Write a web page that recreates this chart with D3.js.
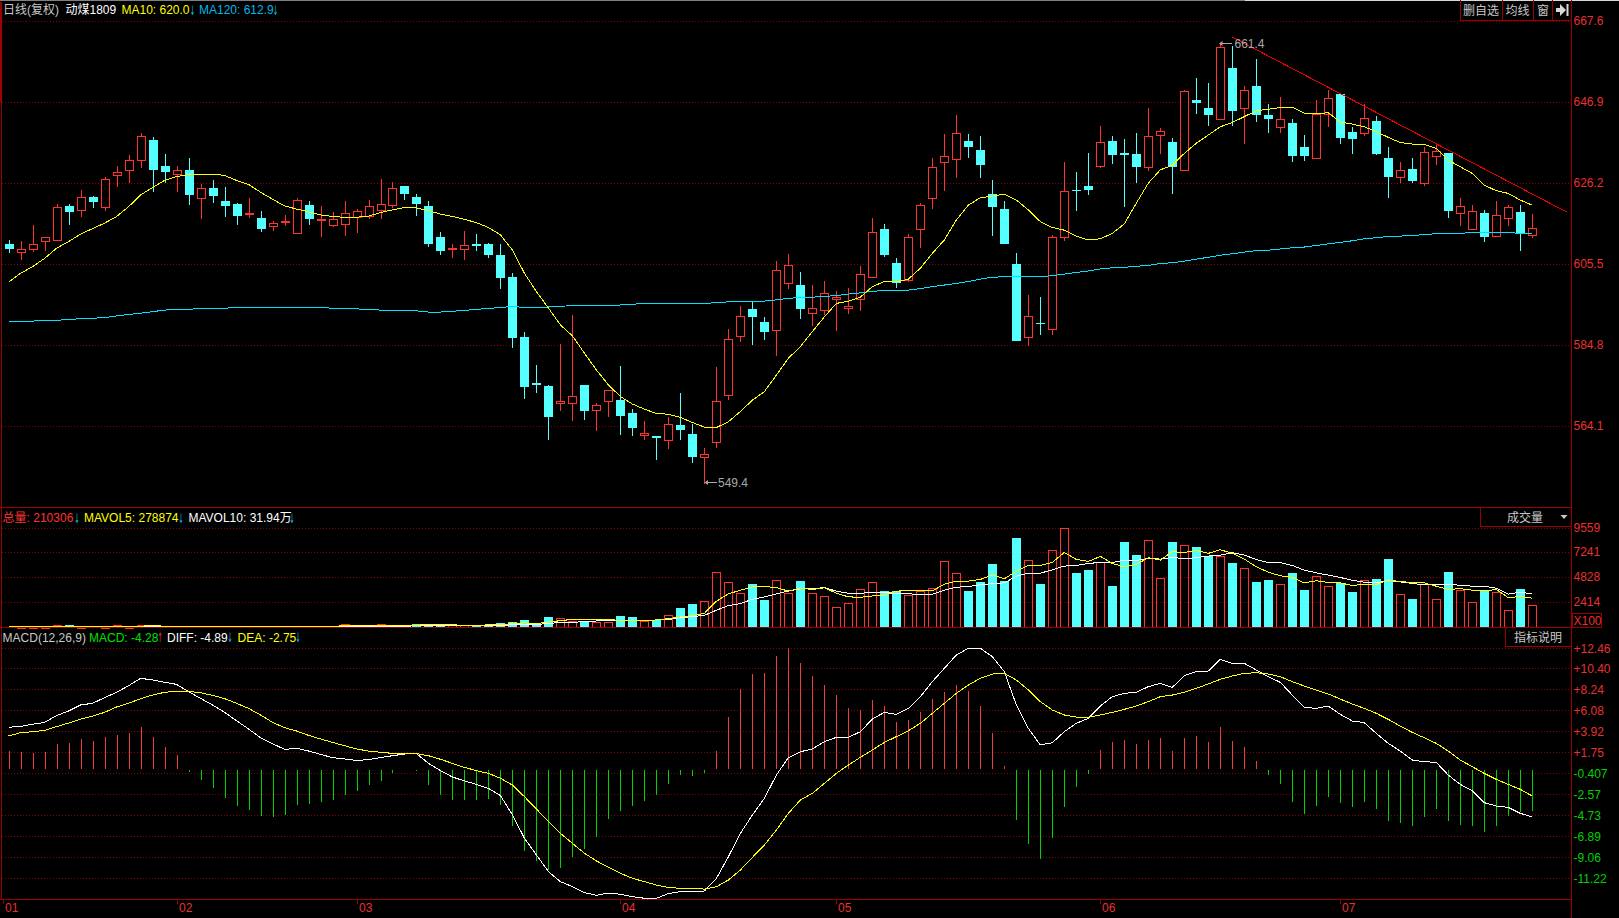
<!DOCTYPE html>
<html><head><meta charset="utf-8">
<style>
html,body{margin:0;padding:0;background:#000;overflow:hidden}
svg{display:block}
text{font-family:"Liberation Sans","Noto Sans CJK SC",sans-serif;font-size:12px}
</style>
<script src="https://cdn.jsdelivr.net/npm/d3@7/dist/d3.min.js"></script>
</head><body>
<svg id="c" width="1619" height="918"></svg>
<script>
const opens=[610.6,608.6,609.4,611.4,611.7,620.3,619.3,622.6,619.9,628.3,
629.6,631.9,637.1,630.5,628.5,629.5,622.4,624.9,621.6,620.8,
618.3,617.2,615.3,616.1,613.5,620.5,616.8,615.4,615.8,617.5,
617.7,619.3,620.6,625.4,622.6,620.3,612.4,609.4,609.4,610.5,
610.6,607.8,602.2,586.8,575.1,574.3,570.1,570.1,574.6,568.3,
570.6,570.7,567.4,561.7,561.6,560.6,564.4,562.1,556.3,560.1,
571.9,587.2,594.0,590.7,588.5,600.5,600.1,592.9,593.6,596.6,
594.2,596.6,602.2,614.4,605.7,601.4,614.5,622.4,631.6,632.4,
636.9,634.6,623.3,619.5,605.5,586.7,590.5,588.8,612.3,624.4,
625.4,630.6,636.9,633.8,633.6,630.3,638.5,636.6,629.6,647.3,
645.3,642.6,655.5,645.4,650.9,643.5,640.5,641.5,635.3,632.6,
643.7,648.9,639.2,639.0,642.0,632.5,627.8,629.7,626.2,633.1,
633.8,618.6,614.4,618.5,612.5,617.3,618.8,613.0];
const highs=[611.5,611.3,615.4,612.3,620.8,620.8,624.4,622.9,627.7,630.5,
633.3,638.9,637.9,633.6,630.5,632.5,625.9,626.8,625.1,621.0,
622.3,619.0,616.5,618.0,622.3,621.6,620.3,618.8,621.6,619.5,
621.8,627.2,626.4,625.4,623.3,621.6,613.6,610.6,613.9,613.1,
610.8,610.6,603.2,588.1,579.7,574.6,585.0,592.4,574.6,570.0,
573.2,579.4,568.4,565.4,561.6,566.4,572.5,564.6,558.4,579.2,
588.9,594.8,595.8,591.9,606.2,608.0,603.4,600.1,601.1,598.6,
599.4,605.0,617.2,615.7,607.0,613.1,621.0,632.5,638.7,643.5,
638.7,638.2,626.9,621.6,608.3,597.6,597.0,613.0,631.5,629.0,
633.8,640.7,638.2,637.4,638.9,645.3,640.2,637.6,649.9,653.0,
651.7,661.8,661.2,650.9,657.8,646.3,648.1,642.5,638.4,647.3,
649.9,648.9,640.4,646.3,643.3,635.3,631.5,632.5,635.3,636.4,
633.8,622.3,620.5,619.3,621.6,620.5,620.5,618.2];
const lows=[608.4,606.5,608.6,608.9,611.7,615.4,617.5,619.8,619.1,625.1,
626.2,630.0,623.9,626.2,623.9,620.5,617.0,621.0,617.5,615.4,
617.2,613.6,613.9,615.2,613.5,615.4,612.4,614.9,612.6,613.4,
617.0,617.0,619.8,621.8,617.7,609.8,607.8,607.0,606.5,608.8,
607.0,599.1,584.0,571.0,572.5,560.5,568.0,565.4,565.6,562.8,
566.4,561.8,561.6,560.5,555.4,558.2,560.5,554.7,549.4,558.5,
570.7,585.6,584.8,586.1,582.0,599.1,591.4,589.6,592.5,588.4,
592.7,593.5,601.9,607.3,599.4,600.9,609.6,619.5,624.1,627.4,
632.5,627.4,612.6,610.6,585.8,584.6,587.3,587.4,611.4,619.0,
623.1,630.0,631.0,620.0,626.2,629.2,633.6,623.3,629.6,643.8,
640.7,642.4,640.7,636.1,641.7,638.9,638.9,631.5,631.8,632.6,
640.4,636.1,633.6,638.2,633.3,622.3,626.2,626.2,625.4,630.8,
617.2,615.2,614.2,611.1,612.4,615.2,608.8,612.1];
const closes=[609.3,609.2,610.5,612.3,619.9,618.8,622.5,621.3,627.1,628.9,
631.9,638.1,629.5,629.0,629.4,623.1,625.0,622.8,620.3,617.7,
618.4,614.4,615.9,616.4,621.7,617.0,616.9,616.9,618.4,618.9,
620.4,620.7,624.8,623.3,620.8,610.6,608.8,609.5,610.2,610.1,
607.8,601.9,586.6,574.1,574.6,566.4,570.5,571.7,567.9,569.4,
573.2,566.7,563.6,562.2,561.1,564.5,563.1,556.2,556.9,570.4,
586.2,592.1,591.9,588.1,603.9,605.1,594.0,594.2,598.0,597.0,
594.7,602.8,613.6,607.8,600.6,612.3,620.5,630.2,633.0,638.8,
635.4,630.8,620.0,610.6,585.8,592.1,590.1,612.3,624.0,624.1,
624.4,636.5,633.3,633.3,630.2,638.1,639.4,630.2,649.6,646.6,
643.5,660.8,644.5,649.8,643.5,642.5,642.4,633.0,633.0,643.8,
647.8,637.6,637.4,642.7,633.6,627.7,629.6,626.7,634.0,634.2,
619.0,620.2,618.9,612.4,617.9,619.9,613.1,614.6];
const ma10=[600.8,603.1,604.8,606.9,609.5,611.2,613.1,614.5,615.9,617.6,
620.1,623.1,625.0,626.8,627.8,628.3,628.4,628.4,628.1,626.8,
625.8,623.8,622.0,620.3,619.5,618.8,618.0,617.6,617.4,617.4,
617.7,618.6,619.3,619.9,619.8,619.1,618.2,617.6,616.9,616.0,
614.8,612.9,609.0,603.1,598.4,594.2,589.9,587.1,582.7,578.4,
574.6,571.6,569.7,568.4,567.3,567.1,566.3,565.0,563.8,563.7,
565.2,567.8,570.7,572.9,577.1,581.4,584.4,588.2,592.0,595.4,
596.0,597.0,599.7,601.0,600.9,601.6,604.4,608.2,611.6,616.7,
620.5,622.4,622.8,623.3,621.8,619.3,616.3,614.8,614.1,612.6,
611.6,611.9,613.3,615.7,621.0,626.1,629.5,630.7,633.7,636.3,
638.4,640.5,641.6,643.1,644.6,645.0,645.4,645.5,644.0,643.8,
644.1,641.7,641.2,640.5,639.3,637.8,636.5,636.1,636.0,635.0,
632.0,630.3,628.6,625.6,624.2,623.5,621.8,620.5];
const ma120=[590.7,590.7,590.9,591.0,591.1,591.3,591.5,591.6,591.8,592.2,
592.6,592.9,593.3,593.7,593.9,593.9,594.1,594.1,594.2,594.3,
594.4,594.4,594.4,594.4,594.4,594.4,594.3,594.2,594.1,594.0,
593.9,593.7,593.6,593.6,593.5,593.2,593.2,593.4,593.6,593.9,
594.1,594.4,594.6,594.4,594.4,594.5,594.7,594.8,594.9,594.9,
594.9,595.0,595.2,595.4,595.4,595.4,595.4,595.4,595.4,595.6,
595.8,595.9,595.9,596.0,596.3,596.7,596.9,597.0,597.2,597.4,
597.8,598.1,598.5,598.7,598.8,598.8,599.2,599.7,600.1,600.5,
601.0,601.6,602.1,602.2,602.2,602.2,602.2,602.5,602.9,603.3,
603.7,604.2,604.5,604.6,604.9,605.1,605.6,605.8,606.2,606.7,
607.2,607.7,608.1,608.5,608.9,609.0,609.3,609.6,609.8,610.2,
610.6,611.0,611.4,611.9,612.2,612.5,612.6,612.7,613.0,613.2,
613.2,613.3,613.5,613.6,613.5,613.5,613.3,613.2];
const volume=[30,30,30,40,170,170,30,30,40,170,
40,170,170,60,50,50,60,50,50,50,
50,50,50,50,50,60,70,60,260,80,
70,260,90,90,260,230,90,230,180,230,
230,355,450,650,290,940,900,580,480,520,
520,1030,940,580,710,1200,1810,2200,2490,5300,
4330,3330,4200,2580,4520,3300,4420,3330,2970,1900,
2290,3650,4330,3490,3460,3130,3460,3810,6330,5170,
3460,4300,6070,4420,8590,6430,4130,7430,9559,5200,
5490,6300,3940,8200,6950,8370,4720,8200,7910,7720,
6880,6820,6170,5650,4330,4520,4200,5200,3550,4880,
3940,4260,3360,4490,4620,6560,3230,2680,4170,2750,
5300,3550,2450,3490,3420,1680,3650,2103];
const mavol5=[40,40,40,50,50,60,60,60,60,60,
70,70,170,70,60,60,60,50,50,50,
50,50,50,50,50,60,60,60,130,130,
120,150,140,130,180,220,230,220,150,170,
200,250,310,400,320,480,610,740,740,740,
710,650,650,650,680,810,970,1100,1320,2490,
3200,3550,3880,3910,3810,3460,3750,3620,3780,3260,
2910,2870,3000,3100,3460,3520,3520,3490,4130,4430,
4430,4590,5040,4650,5390,5940,5940,6230,7200,6520,
6330,6820,6140,5810,6040,6690,6460,7270,7200,7400,
7110,7460,7110,6560,5810,5300,4940,4780,4260,4460,
4300,4260,4010,4130,4100,4550,4390,4300,4260,3940,
3620,3710,3550,3490,3620,2840,2940,2789];
const mavol10=[80,80,80,80,80,80,80,80,80,80,
80,80,80,80,80,80,80,80,80,80,
80,80,80,80,80,80,80,80,80,80,
80,85,85,90,100,110,120,130,130,140,
150,170,200,240,260,320,450,450,520,580,
610,610,610,650,680,710,900,1000,1130,1620,
2070,2260,2680,2910,3200,3490,3680,3680,3810,3460,
3260,3260,3330,3330,3230,3230,3100,3170,3550,3840,
3910,4070,4200,4260,4910,5200,5200,5520,5880,5940,
6140,6230,6230,6460,6430,6620,6560,6720,6590,6690,
6850,6940,7170,6940,6520,6230,6230,5940,5490,5230,
5010,4780,4520,4330,4260,4490,4360,4200,4070,4070,
4100,4040,3940,3940,3750,3170,3360,3194];
const diff=[4.32,4.42,4.63,4.83,5.52,6.0,6.62,6.79,7.37,7.92,
8.6,9.36,9.19,8.95,8.74,7.99,7.3,6.62,5.86,5.0,
4.15,3.25,2.64,2.05,2.16,1.88,1.54,1.2,1.06,0.92,
0.99,1.2,1.4,1.57,1.61,0.61,-0.14,-0.79,-1.2,-1.55,
-1.96,-2.71,-4.7,-7.1,-8.82,-10.53,-11.56,-12.07,-12.69,-12.96,
-12.73,-12.86,-13.1,-13.27,-13.27,-12.79,-12.59,-12.62,-12.52,-11.22,
-8.99,-6.59,-4.7,-2.99,-0.59,1.2,1.81,2.09,2.84,3.29,
3.29,3.87,5.17,5.86,5.65,6.27,7.47,9.02,10.39,11.76,
12.45,12.45,11.59,10.04,6.62,4.21,2.5,2.74,3.87,4.73,
5.24,6.51,7.47,7.82,7.92,8.5,8.84,8.43,9.63,10.04,
10.11,11.31,10.9,10.9,10.22,9.53,8.95,7.64,6.37,6.27,
6.51,5.65,4.97,4.8,3.7,2.67,1.88,0.96,0.78,0.72,
-0.59,-1.55,-2.2,-3.43,-3.78,-3.91,-4.53,-4.89];
const dea=[3.43,3.77,3.87,4.01,4.39,4.76,5.17,5.48,5.86,6.41,
6.79,7.27,7.64,7.92,8.02,8.02,7.88,7.61,7.27,6.79,
6.27,5.59,4.83,4.28,3.94,3.49,3.12,2.77,2.43,2.09,
1.88,1.75,1.64,1.61,1.61,1.4,1.03,0.61,0.2,-0.14,
-0.42,-0.93,-1.62,-2.82,-4.09,-5.39,-6.59,-7.62,-8.64,-9.43,
-10.09,-10.7,-11.22,-11.56,-11.91,-12.15,-12.25,-12.28,-12.32,-12.08,
-11.39,-10.36,-9.06,-7.79,-6.25,-4.53,-3.16,-2.47,-1.44,-0.42,
0.44,1.23,1.99,2.77,3.36,3.97,4.73,5.76,6.79,7.82,
8.67,9.36,9.8,9.87,9.19,8.16,6.96,6.1,5.59,5.38,
5.35,5.59,5.86,6.17,6.51,6.96,7.47,7.64,7.92,8.33,
8.78,9.26,9.6,9.87,9.94,9.8,9.53,9.02,8.57,8.16,
7.75,7.23,6.72,6.27,5.76,5.14,4.45,3.8,3.25,2.67,
1.88,0.96,0.27,-0.42,-1.03,-1.55,-2.06,-2.75];
const macd=[1.88,1.75,1.68,1.78,2.57,2.71,3.12,2.91,3.32,3.53,
3.73,4.35,3.32,2.29,1.47,-0.24,-1.1,-1.92,-2.95,-3.78,
-4.19,-4.8,-4.91,-4.7,-3.67,-3.57,-3.36,-3.16,-2.64,-2.23,
-1.62,-1.2,-0.38,0.05,-0.14,-1.62,-2.64,-3.16,-3.16,-3.16,
-3.05,-3.67,-5.83,-8.4,-9.43,-10.36,-10.15,-9.03,-8.2,-6.97,
-5.11,-4.29,-3.78,-3.26,-2.64,-1.51,-0.59,-0.69,-0.38,1.88,
5.38,8.26,9.8,9.91,11.66,12.48,10.93,9.6,8.67,7.64,
6.3,6.1,7.13,6.51,4.87,5.07,5.9,7.23,7.95,8.67,
8.06,6.51,3.73,0.34,-5.21,-7.68,-9.24,-7.07,-3.88,-1.82,
-0.48,1.99,2.81,3.01,2.6,3.01,3.22,1.88,3.22,3.43,
2.81,4.35,2.91,2.29,0.85,-0.59,-1.51,-3.36,-4.59,-3.78,
-2.85,-3.47,-3.88,-3.36,-4.09,-5.32,-5.52,-5.83,-4.91,-4.09,
-5.32,-5.73,-5.83,-6.45,-5.83,-4.8,-4.39,-4.28];
const priceTicks=[667.6,646.9,626.2,605.5,584.8,564.1];
const volTicks=[9559,7241,4828,2414];
const macdTicks=[12.46,10.40,8.24,6.08,3.92,1.75,-0.407,-2.57,-4.73,-6.89,-9.06,-11.22];
const macdTickLabels=["+12.46","+10.40","+8.24","+6.08","+3.92","+1.75","-0.407","-2.57","-4.73","-6.89","-9.06","-11.22"];
const monthLabels=["01","02","03","04","05","06","07"];
const monthIndex=[-0.5,14,29,51,69,91,111];
const trendIndex=[102,129.9];
const trendPrice=[663.4,618.7];

[opens,highs,lows,closes,ma10,ma120,volume,mavol5,mavol10,diff,dea,macd].forEach((a,k)=>{
  if(a.length!==128) throw new Error("series "+k+" has "+a.length);
});
const idx=d3.range(128);

const RED="#ff3232",CY="#54ffff",YEL="#ffff00",GRID="#8a0000",FRAME="#9a0000",AX="#e83030",GRN="#00d000";
const x=d3.scaleLinear().domain([0,127]).range([8.6,1532.2]);
const yP=d3.scaleLinear().domain([667.6,564.1]).range([20.7,426]);
const yV=d3.scaleLinear().domain([0,9559]).range([627,528]);
const yM=d3.scaleLinear().domain([0,12.46]).range([769.3,648.2]);
const svg=d3.select("#c");
svg.append("rect").attr("width",1619).attr("height",918).attr("fill","#000");

function grid(vals,y){
  svg.append("g").selectAll("line").data(vals).join("line")
   .attr("x1",2).attr("x2",1571)
   .attr("y1",d=>Math.round(y(d))+.5).attr("y2",d=>Math.round(y(d))+.5)
   .attr("stroke",GRID).attr("stroke-dasharray","1 2").attr("shape-rendering","crispEdges");
}
grid(priceTicks,yP);grid(volTicks,yV);grid(macdTicks,yM);

const cx=i=>Math.round(x(i));
// candles
const gc=svg.append("g").attr("shape-rendering","crispEdges");
gc.selectAll("line").data(idx).join("line")
 .attr("x1",i=>cx(i)+.5).attr("x2",i=>cx(i)+.5)
 .attr("y1",i=>yP(highs[i])).attr("y2",i=>yP(lows[i]))
 .attr("stroke",i=>closes[i]>=opens[i]?RED:CY);
gc.selectAll("rect").data(idx).join("rect")
 .each(function(i){
   const up=closes[i]>=opens[i];
   const t=Math.round(yP(Math.max(opens[i],closes[i])));
   const b=Math.round(yP(Math.min(opens[i],closes[i])));
   const h=Math.max(b-t,1);
   d3.select(this)
    .attr("x",up?cx(i)-3.5:cx(i)-4).attr("width",up?8:9)
    .attr("y",up?t+.5:t).attr("height",h)
    .attr("fill",up?"#000":CY).attr("stroke",up?RED:"none");
 });

const line=(vals,y)=>d3.line().x(i=>x(i)).y(i=>y(vals[i]))(idx);
function path(d,c,w){svg.append("path").attr("d",d).attr("fill","none").attr("stroke",c).attr("stroke-width",w||1).attr("shape-rendering","crispEdges");}
path(line(ma120,yP),"#00e0ff");
path(line(ma10,yP),YEL);

// trend line
svg.append("line").attr("x1",x(trendIndex[0])).attr("y1",yP(trendPrice[0]))
 .attr("x2",x(trendIndex[1])).attr("y2",yP(trendPrice[1])).attr("stroke","#f00000").attr("shape-rendering","crispEdges");

// volume bars
const gv=svg.append("g").attr("shape-rendering","crispEdges");
gv.selectAll("rect").data(idx).join("rect").each(function(i){
  const up=closes[i]>=opens[i];
  const t=Math.round(yV(volume[i]));
  d3.select(this).attr("x",up?cx(i)-3.5:cx(i)-4).attr("width",up?8:9)
   .attr("y",up?t+.5:t).attr("height",Math.max(627-t,1))
   .attr("fill",up?"none":CY).attr("stroke",up?RED:"none");
});
path(line(mavol10,yV),"#ffffff");
path(line(mavol5,yV),YEL);

// MACD bars
const gm=svg.append("g").attr("shape-rendering","crispEdges");
gm.selectAll("line").data(idx).join("line")
 .attr("x1",i=>cx(i)+.5).attr("x2",i=>cx(i)+.5)
 .attr("y1",i=>macd[i]>=0?yM(macd[i]):yM(0)+1).attr("y2",i=>macd[i]>=0?yM(0):yM(macd[i]))
 .attr("stroke",i=>macd[i]>=0?"#f03c3c":"#00d400");
path(line(diff,yM),"#ffffff");
path(line(dea,yM),YEL);

// frame
function fl(x1,y1,x2,y2,c,w){svg.append("line").attr("x1",x1).attr("y1",y1).attr("x2",x2).attr("y2",y2)
  .attr("stroke",c).attr("stroke-width",w||1).attr("shape-rendering","crispEdges");}
fl(0,0.5,1245,0.5,"#808080");fl(1245,0.5,1619,0.5,"#d8d8d8");
fl(1,2,1,102,"#a00000",2);fl(1.5,102,1.5,899,FRAME);
fl(0,507.5,1571,507.5,FRAME);fl(0,627.5,1571,627.5,FRAME);fl(0,899.5,1571,899.5,FRAME);
fl(1571.5,0,1571.5,918,FRAME);

// axis labels
function txt(s,tx,ty,c,anchor,size){return svg.append("text").attr("x",tx).attr("y",ty).attr("dy","0.36em").attr("fill",c)
  .attr("text-anchor",anchor||"start").style("font-size",(size||12)+"px").text(s);}
priceTicks.forEach(v=>txt(v.toFixed(1),1573.5,yP(v),AX));
volTicks.forEach(v=>txt(String(v),1573.5,yV(v),AX));
macdTicks.forEach((v,k)=>txt(macdTickLabels[k],1573.5,yM(v),v>0?AX:GRN));
svg.append("rect").attr("x",1572.5).attr("y",613.5).attr("width",29).attr("height",14).attr("fill","none").attr("stroke",FRAME).attr("shape-rendering","crispEdges");
txt("X100",1573.5,620.5,AX);

// month axis
monthLabels.forEach((m,k)=>{
  const px=Math.round(x(monthIndex[k]))+.5;
  fl(px,900,px,904,FRAME);
  txt(m,px+1.5,907.5,AX);
});

// headers
const GR="#c8c8c8",AR="#00c8e8";
function arrow(s,tx,ty,c){txt(s,tx-2.5,ty,c,"start",13).style("font-family","'DejaVu Sans'")
  .attr("textLength",5).attr("lengthAdjust","spacingAndGlyphs");}
[["日线(复权)",3,GR],["动煤1809",65.5,"#ffffff"],["MA10: 620.0",121.5,YEL],["MA120: 612.9",199,"#00b8e8"]].forEach(h=>txt(h[0],h[1],10,h[2]));
arrow("↓",192.5,10,AR);arrow("↓",275.5,10,AR);
[["总量: 210306",2.6,RED],["MAVOL5: 278874",84,YEL],["MAVOL10: 31.94万",188.5,"#ffffff"]].forEach(h=>txt(h[0],h[1],518,h[2]));
arrow("↓",77,518,AR);arrow("↓",181,518,AR);arrow("↓",292,518,AR);
[["MACD(12,26,9)",2.6,GR],["MACD: -4.28",89,"#00e000"],["DIFF: -4.89",167,"#ffffff"],["DEA: -2.75",237.6,YEL]].forEach(h=>txt(h[0],h[1],637.5,h[2]));
arrow("↑",160,637.5,RED);arrow("↓",230,637.5,AR);arrow("↓",298,637.5,AR);

// buttons
const B="#c8c8c8";
fl(1460.5,0,1460.5,20.5,FRAME);fl(1460,20.5,1571,20.5,FRAME);
fl(1502.5,0,1502.5,20.5,FRAME);fl(1533.5,0,1533.5,20.5,FRAME);fl(1552.5,0,1552.5,20.5,FRAME);
txt("删自选",1481,11,B,"middle");txt("均线",1517.5,11,B,"middle");txt("窗",1543,11,B,"middle");
svg.append("path").attr("d","M1556 8h4v-4l6 6-6 6v-4h-4zM1566.5 4h2v12h-2z").attr("fill","#d8d8d8");

fl(1480.5,507,1480.5,526.5,FRAME);fl(1480,526.5,1571,526.5,FRAME);
txt("成交量",1525,518,B,"middle");
svg.append("path").attr("d","M1560.5 515h7l-3.5 4z").attr("fill",B);
fl(1505.5,628,1505.5,646.5,FRAME);fl(1505,646.5,1571,646.5,FRAME);
txt("指标说明",1538,638,B,"middle");

// extreme labels
const EX="#a8a8a8";
fl(1220.5,43.5,1232,43.5,EX);
svg.append("path").attr("d","M1219 43.5l3.5 -2.5v5z").attr("fill",EX);
txt("661.4",1234.5,43.5,EX);
fl(706,482.5,717,482.5,EX);
svg.append("path").attr("d","M704.5 482.5l3.5 -2.5v5z").attr("fill",EX);
txt("549.4",718,482.5,EX);
</script>
</body></html>
